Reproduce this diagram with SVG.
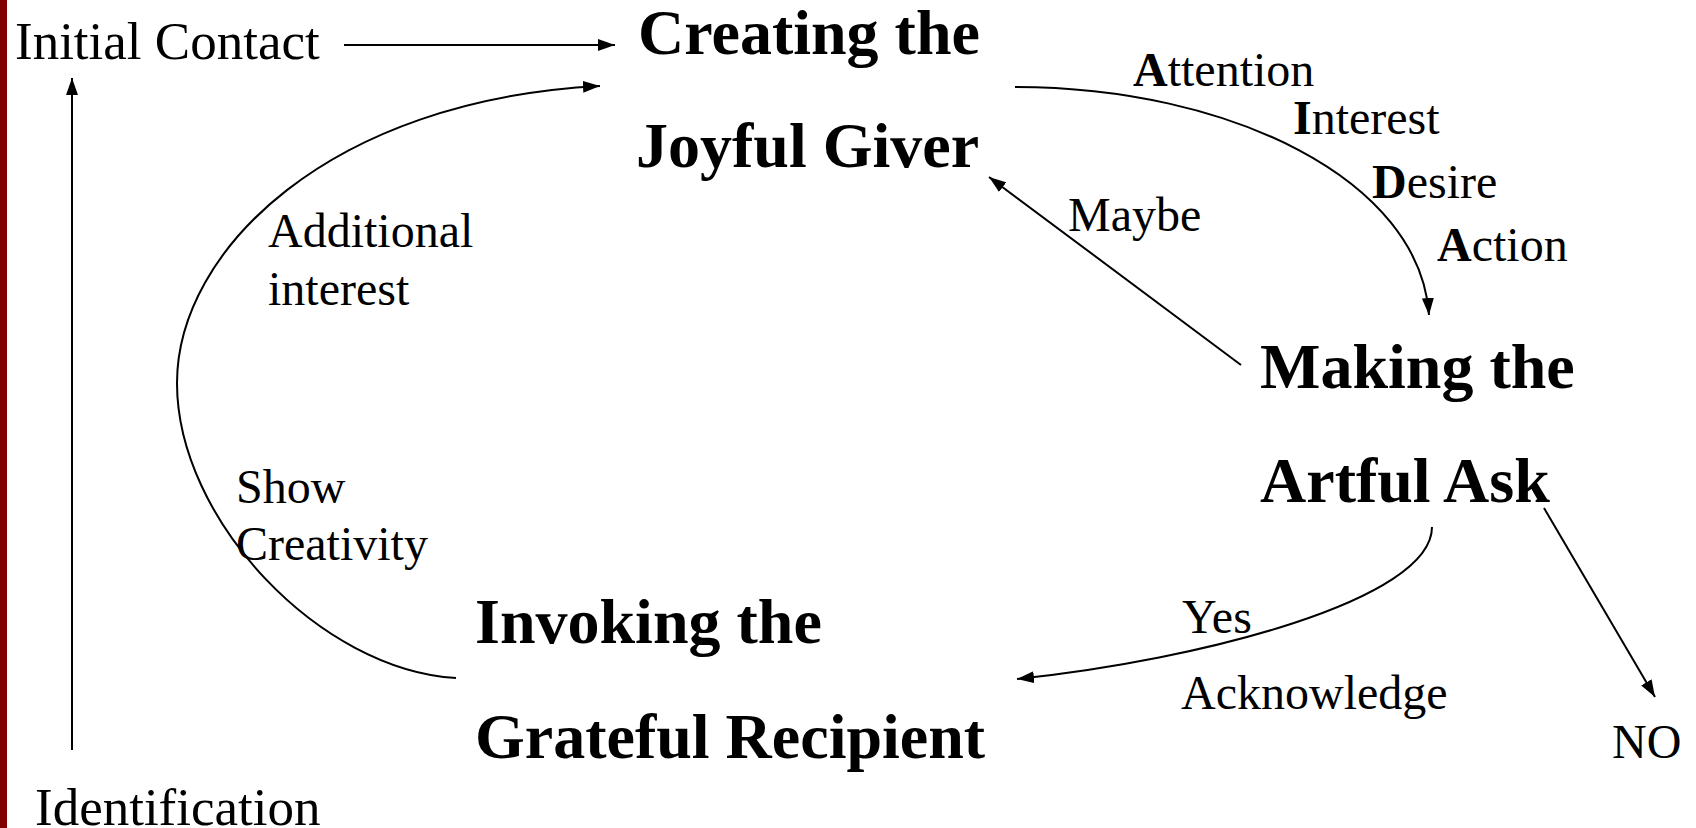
<svg xmlns="http://www.w3.org/2000/svg" width="1696" height="828" viewBox="0 0 1696 828">
<style>
.h{font-family:"Liberation Serif","Times New Roman",serif;font-weight:bold;font-size:64px;fill:#000}
.t{font-family:"Liberation Serif","Times New Roman",serif;font-size:53px;fill:#000}
.l{font-family:"Liberation Serif","Times New Roman",serif;font-size:48px;fill:#000}
.b{font-weight:bold}
.c{fill:none;stroke:#000;stroke-width:2}
</style>
<defs>
<marker id="ah" viewBox="0 0 17 12" refX="17" refY="6" markerWidth="17" markerHeight="12" markerUnits="userSpaceOnUse" orient="auto">
<path d="M0,0 L17,6 L0,12 Z" fill="#000"/>
</marker>
</defs>
<rect x="0" y="0" width="1696" height="828" fill="#fff"/>
<rect x="0" y="0" width="7" height="828" fill="#800000"/>
<g id="connectors">
<line class="c" x1="344" y1="45" x2="615" y2="45" marker-end="url(#ah)"/>
<line class="c" x1="72" y1="750" x2="72" y2="78" marker-end="url(#ah)"/>
<path class="c" d="M456,678 C320,670 177,520 177,383 C177,250 330,100 600,86" marker-end="url(#ah)"/>
<path class="c" d="M1015,87 C1230,87 1420,180 1429,315" marker-end="url(#ah)"/>
<line class="c" x1="1241" y1="365" x2="989" y2="177" marker-end="url(#ah)"/>
<path class="c" d="M1432,527 C1432,600 1200,660 1017,679" marker-end="url(#ah)"/>
<line class="c" x1="1544" y1="508" x2="1655" y2="697" marker-end="url(#ah)"/>
</g>
<g id="initial-contact"><text class="t" x="15" y="59">Initial Contact</text></g>
<g id="identification"><text class="t" x="35" y="825">Identification</text></g>
<g id="joyful-giver"><text class="h" x="638" y="54">Creating the</text><text class="h" x="636" y="167">Joyful Giver</text></g>
<g id="artful-ask"><text class="h" x="1260" y="388">Making the</text><text class="h" x="1260" y="502">Artful Ask</text></g>
<g id="grateful-recipient"><text class="h" x="475" y="643">Invoking the</text><text class="h" x="475" y="758">Grateful Recipient</text></g>
<g id="labels">
<text class="l" x="1133" y="86"><tspan class="b">A</tspan>ttention</text>
<text class="l" x="1293" y="134"><tspan class="b">I</tspan>nterest</text>
<text class="l" x="1372" y="198"><tspan class="b">D</tspan>esire</text>
<text class="l" x="1437" y="261"><tspan class="b">A</tspan>ction</text>
<text class="l" x="1068" y="231">Maybe</text>
<text class="l" x="268" y="247">Additional</text>
<text class="l" x="268" y="305">interest</text>
<text class="l" x="236" y="503">Show</text>
<text class="l" x="236" y="560">Creativity</text>
<text class="l" x="1182" y="633">Yes</text>
<text class="l" x="1181" y="709">Acknowledge</text>
<text class="l" x="1612" y="758">NO</text>
</g>
</svg>
